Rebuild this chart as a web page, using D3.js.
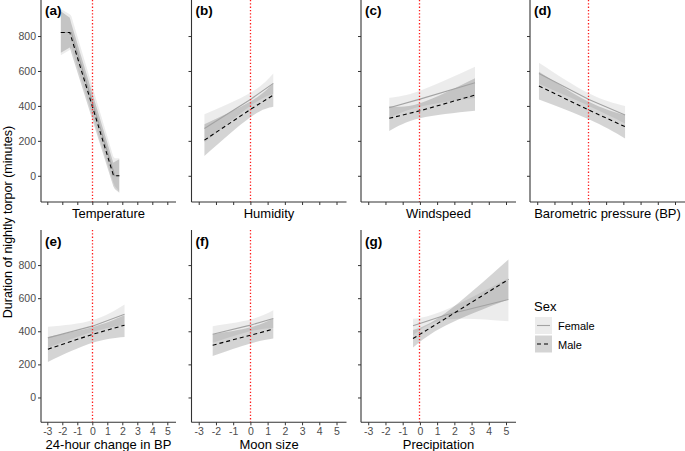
<!DOCTYPE html>
<html>
<head>
<meta charset="utf-8">
<script src="https://cdn.jsdelivr.net/npm/d3@7"></script>
<style>
  body { margin: 0; background: #fff; }
  svg { font-family: "Liberation Sans", Arial, sans-serif; }
</style>
</head>
<body>
<svg id="chart" width="685" height="451"></svg>
<script>
// each row: x, female fit, female lo, female hi, male fit, male lo, male hi
const temperatureRows = [
  [-2.1, 820, 690, 955, 820, 705, 942],
  [-1.5, 820, 720, 925, 820, 735, 905],
  [-1.4, 820, 735, 915, 792, 705, 872],
  [1.4, 28, -40, 110, 5, -60, 75],
  [1.5, 0, -60, 100, 0, -75, 80],
  [1.8, 0, -90, 100, 0, -97, 95]
];
const humidityRows = [
  [-2.67, 271, 190, 352, 204, 113, 295],
  [0, 437, 400, 475, 380, 335, 425],
  [1.33, 529, 470, 586, 462, 395, 530]
];
const windspeedRows = [
  [-1.78, 389, 330, 447, 329, 256, 400],
  [0, 439, 395, 487, 372, 329, 415],
  [3.2, 533, 445, 624, 462, 372, 558]
];
const pressureRows = [
  [-2.9, 586, 525, 647, 514, 437, 596],
  [0, 437, 400, 472, 376, 323, 424],
  [2.1, 348, 300, 399, 281, 214, 348]
];
const bpChangeRows = [
  [-2.96, 360, 300, 427, 292, 215, 366],
  [0, 431, 395, 467, 381, 330, 425],
  [2.15, 503, 440, 562, 437, 366, 497]
];
const moonRows = [
  [-2.19, 382, 330, 431, 316, 250, 382],
  [0, 437, 400, 471, 376, 326, 424],
  [1.33, 477, 420, 527, 413, 356, 477]
];
const precipitationRows = [
  [-0.4, 433, 376, 475, 356, 302, 407],
  [1.5, 498, 470, 530, 478, 435, 512],
  [5.14, 592, 460, 720, 713, 594, 834]
];

const panelTags = ['(a)', '(b)', '(c)', '(d)', '(e)', '(f)', '(g)'];
const axisTitles = ['Temperature', 'Humidity', 'Windspeed', 'Barometric pressure (BP)',
  '24-hour change in BP', 'Moon size', 'Precipitation'];
const panelData = [temperatureRows, humidityRows, windspeedRows, pressureRows,
  bpChangeRows, moonRows, precipitationRows];
const xTicks = [-3, -2, -1, 0, 1, 2, 3, 4, 5];
const yTicks = [0, 200, 400, 600, 800];
const sexes = ['Female', 'Male'];

const svg = d3.select('#chart');

// panel geometry (ggplot grid, first column narrower because of y labels)
const colLeft = [41, 191.5, 361, 530];
const colRight = [176, 346.5, 516, 685];
const rowTop = [-1, 230];
const rowBottom = [202, 422.3];

const xDomain = [-3.42, 5.58];
const yDomain = [-150, 1012];

panelData.forEach((rows, i) => {
  const r = i < 4 ? 0 : 1;
  const c = i < 4 ? i : i - 4;
  const x = d3.scaleLinear().domain(xDomain).range([colLeft[c], colRight[c]]);
  const y = d3.scaleLinear().domain(yDomain).range([rowBottom[r], rowTop[r]]);
  const g = svg.append('g');
  const curve = i === 0 ? d3.curveLinear : d3.curveNatural;

  // ribbons: female then male
  const bands = [
    { lo: 2, hi: 3, op: 0.075 },
    { lo: 5, hi: 6, op: 0.17 }
  ];
  bands.forEach(b => {
    g.append('path')
      .datum(rows)
      .attr('d', d3.area().curve(curve)
        .x(d => x(d[0])).y0(d => y(d[b.lo])).y1(d => y(d[b.hi])))
      .attr('fill', '#000')
      .attr('fill-opacity', b.op);
  });

  // fitted lines
  g.append('path')
    .datum(rows)
    .attr('d', d3.line().x(d => x(d[0])).y(d => y(d[1])))
    .attr('fill', 'none')
    .attr('stroke', '#a3a3a3')
    .attr('stroke-width', 1.1);
  g.append('path')
    .datum(rows)
    .attr('d', d3.line().x(d => x(d[0])).y(d => y(d[4])))
    .attr('fill', 'none')
    .attr('stroke', '#000')
    .attr('stroke-width', 1.1)
    .attr('stroke-dasharray', '4,3');

  // red dotted reference at 0, snapped to the pixel grid
  const x0 = Math.floor(x(0)) + 0.5;
  g.append('line')
    .attr('x1', x0).attr('x2', x0)
    .attr('y1', Math.max(rowTop[r], 0)).attr('y2', rowBottom[r])
    .attr('stroke', '#ff1a1a')
    .attr('stroke-width', 1.3)
    .attr('stroke-dasharray', '1.3,2');

  // axes
  const fmt = d => String(d);
  const xAxis = g.append('g')
    .attr('transform', `translate(0,${rowBottom[r]})`)
    .call(d3.axisBottom(x).tickValues(xTicks).tickSize(3).tickPadding(2)
      .tickFormat(r === 1 ? fmt : ''));
  const yAxis = g.append('g')
    .attr('transform', `translate(${colLeft[c]},0)`)
    .call(d3.axisLeft(y).tickValues(yTicks).tickSize(3).tickPadding(2)
      .tickFormat(c === 0 ? fmt : ''));
  [xAxis, yAxis].forEach(ax => {
    ax.select('.domain').attr('stroke', '#333').attr('stroke-width', 1.1);
    ax.selectAll('.tick line').attr('stroke', '#333');
    ax.selectAll('.tick text').attr('fill', '#4d4d4d').attr('font-size', 10.5)
      .attr('font-family', '"Liberation Sans", Arial, sans-serif');
  });
  // no end caps on the domain
  xAxis.select('.domain').attr('d', `M${colLeft[c]},0H${colRight[c]}`);
  yAxis.select('.domain').attr('d', `M0,${rowBottom[r]}V${rowTop[r]}`);

  g.append('text')
    .attr('x', colLeft[c] + 4)
    .attr('y', rowTop[r] + 16)
    .attr('font-size', 13.5)
    .attr('font-weight', 'bold')
    .text(panelTags[i]);

  g.append('text')
    .attr('x', (colLeft[c] + colRight[c]) / 2)
    .attr('y', r === 0 ? 218 : 449)
    .attr('text-anchor', 'middle')
    .attr('font-size', 13)
    .attr('fill', '#000')
    .text(axisTitles[i]);
});

// y axis title
svg.append('text')
  .attr('transform', 'translate(11.5,222) rotate(-90)')
  .attr('text-anchor', 'middle')
  .attr('font-size', 12.5)
  .text('Duration of nightly torpor (minutes)');

// legend
const legend = svg.append('g');
legend.append('text')
  .attr('x', 534).attr('y', 311)
  .attr('font-size', 13)
  .text('Sex');
sexes.forEach((s, i) => {
  const top = 317 + i * 18.5;
  legend.append('rect')
    .attr('x', 535).attr('y', top).attr('width', 17).attr('height', 17)
    .attr('fill', '#000').attr('fill-opacity', i === 0 ? 0.075 : 0.17);
  legend.append('line')
    .attr('x1', 537).attr('x2', 550)
    .attr('y1', top + 8.5).attr('y2', top + 8.5)
    .attr('stroke', i === 0 ? '#a3a3a3' : '#000')
    .attr('stroke-width', 1.1)
    .attr('stroke-dasharray', i === 0 ? null : '4,3');
  legend.append('text')
    .attr('x', 558).attr('y', top + 13)
    .attr('font-size', 11)
    .text(s);
});
</script>
</body>
</html>
